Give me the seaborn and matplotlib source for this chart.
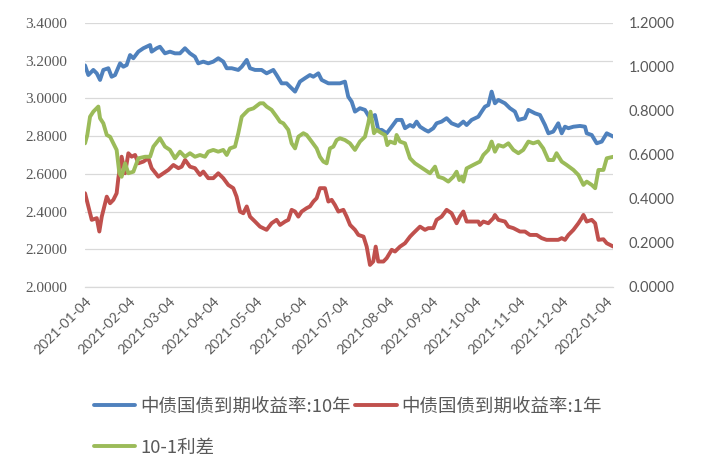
import matplotlib
matplotlib.use("Agg")
import matplotlib.pyplot as plt
import matplotlib.transforms as mtransforms
from matplotlib.lines import Line2D
from matplotlib.ticker import FuncFormatter, MultipleLocator
import seaborn as sns
import pandas as pd

# ---------------- data (day offsets from 2021-01-04) ----------------
start_date = "2021-01-04"

y10_days = [0, 2.3, 5.8, 8.2, 10.5, 12.8, 16.3, 18.6, 21, 24.5, 26.8, 29.1, 31.5, 33.8, 37.3, 40.8,
            45.5, 46.6, 50.1, 52.4, 55.9, 59.4, 62.9, 66.4, 69.9, 73.4, 76.9, 79.2, 82.7, 86.2, 89.7,
            93.2, 96.7, 99.1, 102.6, 107.2, 109.6, 113.1,
            115.4, 118.9, 123.5, 127, 131.7, 134, 137.5, 141, 143.4, 146.9, 150.3, 153.8, 157.3, 159.7,
            163.2, 165.5, 170.2, 174.8, 178.3, 181.8, 184.1, 186.5, 188.8, 192.3, 195.8, 199.3, 202.8,
            205.1, 207.5, 211, 214.5, 218, 221.5, 223.8, 227.3, 229.6, 231.9,
            234.3, 237.8, 240.1, 243.6, 245.9, 249.4, 252.9, 256.4, 261.1, 264.6, 266.9, 270.4, 275.1,
            277.4, 279.7, 282.1, 284.4, 286.7, 289.1, 293.7, 297.2, 300.7, 303.1, 307.7, 310.1, 314.7,
            318.2, 321.7, 324.1, 327.5, 331, 333.4, 335.7, 338.1, 341.6, 346.2, 349.7, 350.9, 354.4,
            357.9, 361.4, 364.9, 369.6]
y10_vals = [3.175, 3.124, 3.151, 3.133, 3.098, 3.151, 3.160, 3.115, 3.124, 3.186, 3.168, 3.177, 3.230,
            3.213, 3.248, 3.266, 3.283, 3.248, 3.266, 3.274, 3.239, 3.248, 3.239, 3.239, 3.266, 3.239,
            3.221, 3.186, 3.195, 3.186, 3.195, 3.213, 3.195, 3.160, 3.160, 3.151, 3.168, 3.204,
            3.160, 3.151, 3.151, 3.133, 3.151, 3.124, 3.080, 3.080, 3.062, 3.036, 3.089, 3.107, 3.124,
            3.115, 3.133, 3.098, 3.080, 3.080, 3.080, 3.089, 3.009, 2.983, 2.930, 2.948, 2.939, 2.895,
            2.912, 2.833, 2.833, 2.815, 2.850, 2.886, 2.886, 2.842, 2.859, 2.850, 2.877,
            2.850, 2.833, 2.824, 2.842, 2.868, 2.877, 2.895, 2.868, 2.854, 2.877, 2.859, 2.886, 2.903,
            2.930, 2.956, 2.965, 3.036, 2.974, 2.992, 2.974, 2.948, 2.930, 2.886, 2.895, 2.939, 2.921,
            2.912, 2.859, 2.815, 2.824, 2.868, 2.815, 2.850, 2.842, 2.850, 2.854, 2.850, 2.815, 2.806,
            2.762, 2.771, 2.815, 2.797]

y1_days = [0, 2.3, 4.7, 8.2, 10, 11.7, 15.2, 17.5, 19.8, 22.1, 23.3, 25.6, 28, 30.3, 32.6, 35, 37.3,
           40.8, 44.3, 46.6, 51.3, 54.8, 58.3, 61.8, 65.3, 67.6, 70, 73.4, 76.9, 80.4, 82.7, 86.2, 89.7,
           93.2, 96.7, 100.2, 103.7, 106, 108.4, 110.7, 113.1,
           115.4, 118.9, 122.4, 127, 130.5, 134, 136.4, 139.9, 142.2, 144.5, 146.9, 149.2, 151.5, 155,
           157.3, 159.7, 162, 164.3, 167.8, 170.2, 172.5, 174.8, 177.2, 180.7, 183, 185.4, 188.8, 191.2,
           194.8, 197, 199.3, 201.6, 203.3, 205.1, 208.7, 211, 214.5, 216.8, 220.3, 223.8, 227.3, 229.6,
           234.3, 237.8, 240.1, 243.6, 245.9, 249.4, 252.9, 256.4, 259.9, 262.2, 264.6, 266.9, 270.4,
           275.1, 276.2, 278.6, 282.1, 285.6, 286.7, 289.1, 293.7, 296.1, 299.6, 304.2, 307.7, 311.2,
           315.9, 319.4, 322.8, 327.5, 331, 333.4, 335.7, 338.1, 341.6, 345.1, 347.4, 348.6, 350.9,
           354.4, 356.8, 359.1, 362.6, 364.9, 369.6]
y1_vals = [2.497, 2.427, 2.356, 2.365, 2.294, 2.373, 2.479, 2.444, 2.462, 2.497, 2.577, 2.691, 2.603,
           2.709, 2.691, 2.700, 2.656, 2.665, 2.683, 2.630, 2.585, 2.603, 2.621, 2.647, 2.630, 2.638,
           2.674, 2.638, 2.630, 2.594, 2.612, 2.577, 2.577, 2.603, 2.577, 2.541, 2.524, 2.479, 2.400,
           2.391, 2.427,
           2.373, 2.347, 2.320, 2.303, 2.338, 2.356, 2.329, 2.347, 2.356, 2.409, 2.400, 2.373, 2.400,
           2.418, 2.427, 2.453, 2.471, 2.524, 2.524, 2.453, 2.462, 2.435, 2.400, 2.409, 2.373, 2.329,
           2.303, 2.276, 2.267, 2.214, 2.117, 2.135, 2.214, 2.135, 2.135, 2.153, 2.197, 2.188, 2.214,
           2.232, 2.267, 2.285,
           2.320, 2.303, 2.312, 2.312, 2.356, 2.373, 2.409, 2.391, 2.338, 2.373, 2.400, 2.347, 2.347,
           2.347, 2.329, 2.347, 2.338, 2.365, 2.382, 2.356, 2.347, 2.320, 2.312, 2.294, 2.294, 2.276,
           2.276, 2.259, 2.250, 2.250, 2.250, 2.259, 2.250, 2.276, 2.303, 2.338, 2.365, 2.382, 2.347,
           2.356, 2.338, 2.250, 2.253, 2.232, 2.214]

spread_days = [0, 1.6, 3.5, 5.8, 9.3, 10.5, 12.8, 15.2, 17.5, 19.8, 22.1, 24, 25.6, 28, 30.3, 33.8,
               37.3, 42, 45.5, 47.8, 52.4, 55.9, 59.4, 62.9, 66.4, 69.9, 73.4, 76.9, 80.4, 83.9, 86.2,
               89.7, 93.2, 96.7, 99.1, 101.4, 104.9, 107.2, 109.6, 112, 114.3,
               117.8, 122.4, 124.7, 127, 130.5, 134, 136.4, 138.7, 142.2, 144.5, 146.9, 149.2, 152.7,
               155, 158.5, 162, 164.3, 166.7, 169, 171.3, 173.7, 176, 178.3, 181.8, 185.3, 188.8,
               192.3, 195.8, 198.1, 199.7, 202.1, 203.9, 207.5, 209.8, 211.4, 213.3, 216.8, 217.9,
               220.3, 223.8, 227.3, 230.8,
               234.3, 237.8, 241.3, 244.8, 247.1, 250.6, 254.1, 257.6, 259.9, 261.8, 263.4, 264.6,
               266.9, 271.6, 276.2, 278.6, 282.1, 284.4, 286.7, 289.1, 292.6, 296.1, 299.6, 303.1,
               306.5, 310.1, 313.5, 317, 320.5, 324.1, 327.5, 329.8, 333.4, 336.8, 341.6, 345.1,
               348.6, 350.9, 354.4, 356.8, 359.1, 362.6, 364.9, 369.6]
spread_vals = [0.653, 0.691, 0.774, 0.797, 0.820, 0.767, 0.744, 0.691, 0.683, 0.653, 0.623, 0.517,
               0.501, 0.562, 0.517, 0.524, 0.585, 0.592, 0.592, 0.638, 0.676, 0.638, 0.623, 0.585,
               0.615, 0.592, 0.608, 0.592, 0.600, 0.592, 0.615, 0.623, 0.615, 0.623, 0.600, 0.630,
               0.638, 0.699, 0.774, 0.790, 0.805,
               0.812, 0.835, 0.835, 0.820, 0.805, 0.774, 0.751, 0.744, 0.714, 0.653, 0.630, 0.683,
               0.699, 0.691, 0.661, 0.630, 0.592, 0.570, 0.562, 0.630, 0.638, 0.668, 0.676, 0.668,
               0.653, 0.623, 0.661, 0.683, 0.744, 0.797, 0.699, 0.714, 0.699, 0.691, 0.645, 0.661,
               0.653, 0.691, 0.661, 0.653, 0.585, 0.562,
               0.547, 0.532, 0.517, 0.547, 0.501, 0.494, 0.479, 0.501, 0.524, 0.486, 0.501, 0.479,
               0.539, 0.555, 0.570, 0.600, 0.623, 0.661, 0.615, 0.645, 0.638, 0.653, 0.623, 0.608,
               0.623, 0.661, 0.653, 0.661, 0.630, 0.577, 0.577, 0.608, 0.570, 0.555, 0.532, 0.509,
               0.464, 0.479, 0.464, 0.449, 0.532, 0.532, 0.585, 0.592]

tick_labels = ["2021-01-04", "2021-02-04", "2021-03-04", "2021-04-04", "2021-05-04", "2021-06-04",
               "2021-07-04", "2021-08-04", "2021-09-04", "2021-10-04", "2021-11-04", "2021-12-04",
               "2022-01-04"]
series_names = ["中债国债到期收益率:10年", "中债国债到期收益率:1年", "10-1利差"]
colors = ["#4F81BD", "#C0504D", "#9BBB59"]

# ---------------- figure ----------------
sns.set_style("white")
plt.rcParams["font.family"] = ["Lato", "DejaVu Sans"]

t0 = pd.Timestamp(start_date)
def to_dates(days):
    return t0 + pd.to_timedelta(days, unit="D")

df10 = pd.DataFrame({"date": to_dates(y10_days), "v": y10_vals})
df1 = pd.DataFrame({"date": to_dates(y1_days), "v": y1_vals})
dfs = pd.DataFrame({"date": to_dates(spread_days), "v": spread_vals})

fig = plt.figure(figsize=(7.01, 4.71), dpi=100)
ax = fig.add_axes([0.1213, 0.3907, 0.7532, 0.5605])
ax2 = ax.twinx()

lw = 2.8
sns.lineplot(data=df10, x="date", y="v", ax=ax, color=colors[0], linewidth=lw, sort=False)
sns.lineplot(data=df1, x="date", y="v", ax=ax, color=colors[1], linewidth=lw, sort=False)
sns.lineplot(data=dfs, x="date", y="v", ax=ax2, color=colors[2], linewidth=lw, sort=False)

grid_c = "#D9D9D9"
text_c = "#595959"

ax.set_ylim(2.0, 3.4)
ax.yaxis.set_major_locator(MultipleLocator(0.2))
ax.yaxis.set_major_formatter(FuncFormatter(lambda v, p: f"{v:.4f}"))
ax2.set_ylim(0.0, 1.2)
ax2.yaxis.set_major_locator(MultipleLocator(0.2))
ax2.yaxis.set_major_formatter(FuncFormatter(lambda v, p: f"{v:.4f}"))

ax.set_xlim(t0, t0 + pd.Timedelta(days=369.3))
ticks = pd.to_datetime(tick_labels)
ax.set_xticks(ticks)
ax.set_xticklabels(tick_labels)

ax.yaxis.grid(True, color=grid_c, linewidth=0.9)
ax.xaxis.grid(False)
ax.set_axisbelow(True)
for s in ["top", "left", "right"]:
    ax.spines[s].set_visible(False)
ax.spines["bottom"].set_color(grid_c)
ax.spines["bottom"].set_linewidth(0.9)
for s in ax2.spines.values():
    s.set_visible(False)

ax.set_xlabel("")
ax.set_ylabel("")
ax2.set_xlabel("")
ax2.set_ylabel("")

ax.tick_params(axis="y", length=0, pad=13, labelcolor=text_c)
ax2.tick_params(axis="y", length=0, pad=11, labelcolor=text_c)
ax.tick_params(axis="x", direction="out", length=3.6, width=0.9, color=grid_c, pad=5,
               labelcolor=text_c)

for lab in ax.get_yticklabels():
    lab.set_fontfamily(["Liberation Serif", "DejaVu Serif"])
    lab.set_fontsize(11)
for lab in ax2.get_yticklabels():
    lab.set_fontfamily(["Lato", "DejaVu Sans"])
    lab.set_fontsize(10.5)
offset = mtransforms.ScaledTranslation(4 / 100, 0, fig.dpi_scale_trans)
for lab in ax.get_xticklabels():
    lab.set_rotation(45)
    lab.set_ha("right")
    lab.set_va("center")
    lab.set_rotation_mode("anchor")
    lab.set_fontsize(10)
    lab.set_transform(lab.get_transform() + offset)

handles = [Line2D([0], [0], color=colors[0], lw=lw),
           Line2D([0], [0], color=colors[2], lw=lw),
           Line2D([0], [0], color=colors[1], lw=lw)]
labels = [series_names[0], series_names[2], series_names[1]]
leg = fig.legend(handles, labels, ncol=2, loc="upper left", bbox_to_anchor=(0.134, 0.156),
                 frameon=False, prop={"family": ["Noto Sans CJK SC", "DejaVu Sans"], "size": 13.3},
                 handlelength=2.25, handletextpad=0.28, columnspacing=0.2, labelspacing=1.25,
                 borderpad=0, borderaxespad=0)
for t in leg.get_texts():
    t.set_color(text_c)

fig.savefig("out.png", dpi=100)
